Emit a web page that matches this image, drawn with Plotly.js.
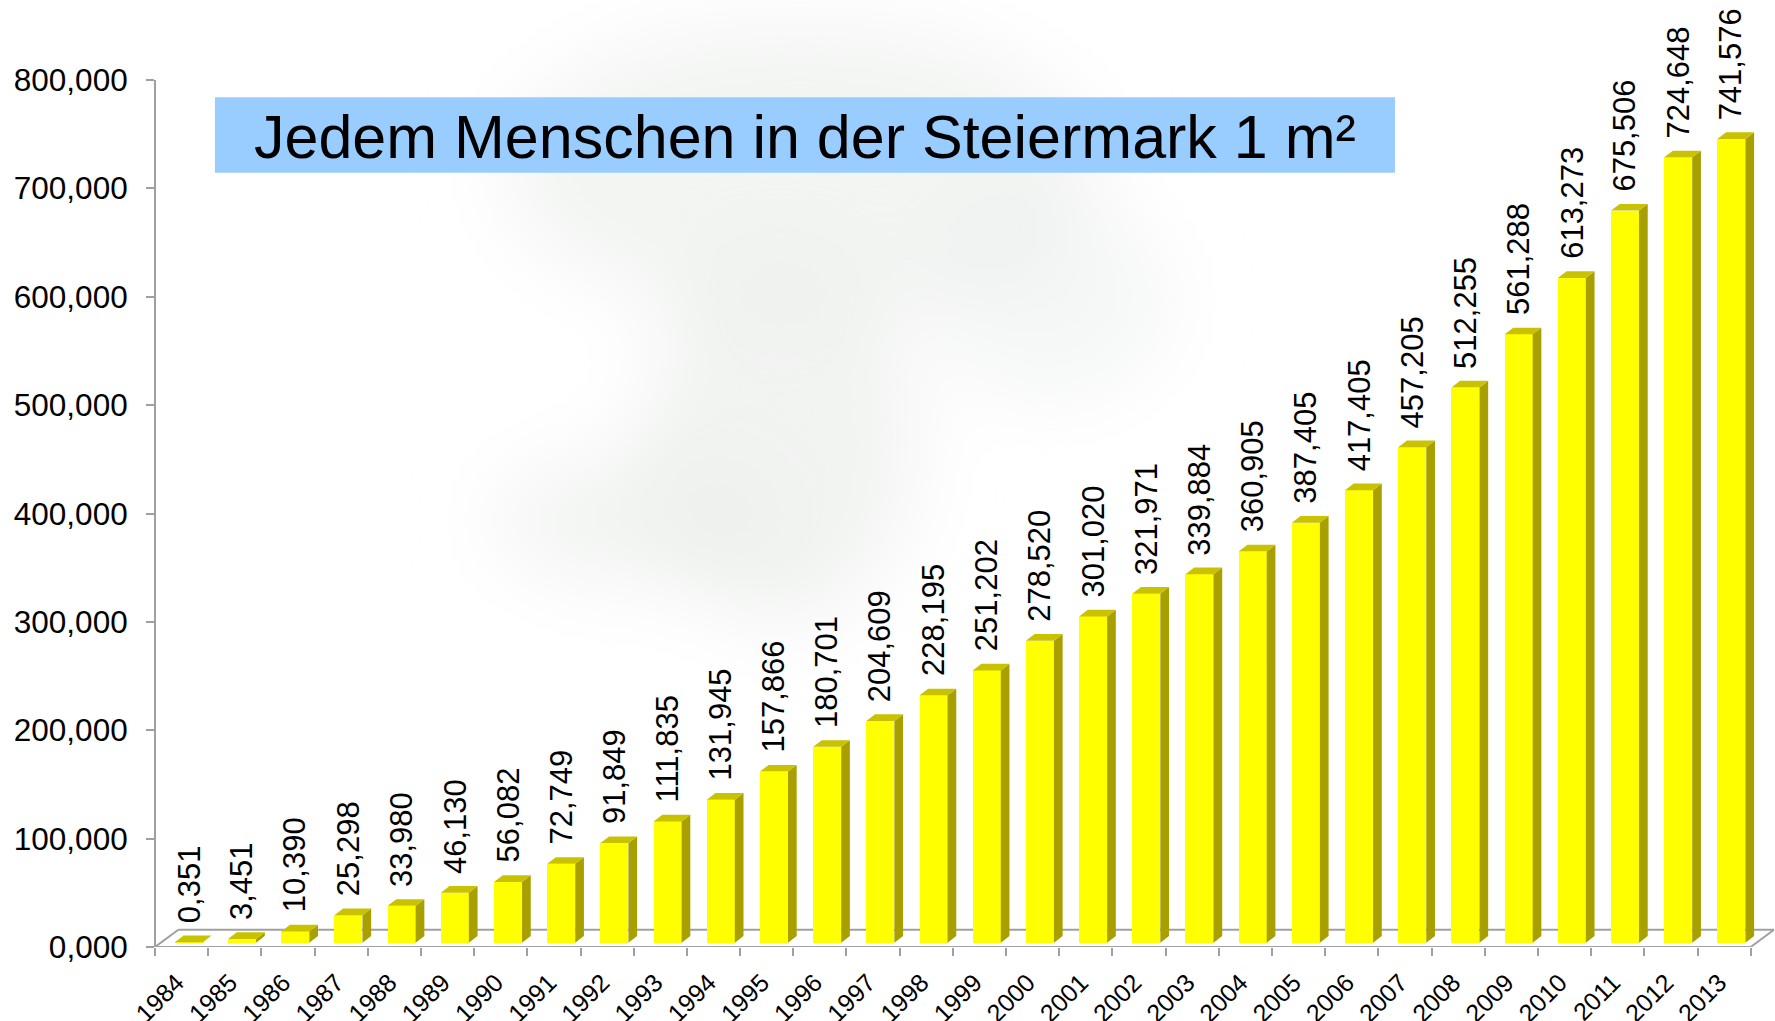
<!DOCTYPE html>
<html>
<head>
<meta charset="utf-8">
<script src="https://cdn.plot.ly/plotly-3.0.1.min.js"></script>
<style>
  html, body { margin: 0; padding: 0; background: #ffffff; }
  #chart { width: 1775px; height: 1021px; }
</style>
</head>
<body>
<div id="chart"></div>
<script>
// ---- data ----
const years = ['1984','1985','1986','1987','1988','1989','1990','1991','1992','1993',
               '1994','1995','1996','1997','1998','1999','2000','2001','2002','2003',
               '2004','2005','2006','2007','2008','2009','2010','2011','2012','2013'];
const values = [0.351, 3.451, 10.390, 25.298, 33.980, 46.130, 56.082, 72.749, 91.849, 111.835,
                131.945, 157.866, 180.701, 204.609, 228.195, 251.202, 278.520, 301.020, 321.971, 339.884,
                360.905, 387.405, 417.405, 457.205, 512.255, 561.288, 613.273, 675.506, 724.648, 741.576];
const yTickVals = [0, 100, 200, 300, 400, 500, 600, 700, 800];
const titleText = 'Jedem Menschen in der Steiermark 1 m²';

// ---- geometry (style constants, in axis units) ----
const OFF = 0.137;      // front face centre offset from category centre
const BW = 0.527;       // front face width
const BASE = 4.0;       // bar floor level above the front floor edge
const SDX = 0.1636, SDY = 6.18;   // bar depth projection
const FDX = 0.438, FDY = 15.96;   // floor depth projection
const LBL_SHIFT = -0.09;          // year label nudge
const N = years.length;
const XRANGE = [-0.5, -0.5 + 1620 / 53.19];

const idx = years.map((_, i) => i);
const fmt = v => v.toFixed(3).replace('.', ',');

// side and top faces as filled polygons built from the data
const sideX = [], sideY = [], topX = [], topY = [];
idx.forEach(i => {
  const xl = i + OFF - BW / 2, xr = i + OFF + BW / 2;
  const top = BASE + values[i];
  sideX.push(xr, xr + SDX, xr + SDX, xr, xr, null);
  sideY.push(BASE, BASE + SDY, top + SDY, top, BASE, null);
  topX.push(xl, xl + SDX, xr + SDX, xr, xl, null);
  topY.push(top, top + SDY, top + SDY, top, top, null);
});

const traces = [
  {
    type: 'bar', x: idx.map(i => i + OFF), y: values, base: BASE, width: BW,
    marker: { color: '#FFFF00', line: { width: 0 } }, hoverinfo: 'skip', showlegend: false
  },
  {
    type: 'scatter', mode: 'lines', x: sideX, y: sideY, fill: 'toself',
    fillcolor: '#A8A000', line: { width: 0, color: '#A8A000' }, hoverinfo: 'skip', showlegend: false
  },
  {
    type: 'scatter', mode: 'lines', x: topX, y: topY, fill: 'toself',
    fillcolor: '#C9C200', line: { width: 0, color: '#C9C200' }, hoverinfo: 'skip', showlegend: false
  },
  { // anchors the category-boundary tick axis
    type: 'scatter', mode: 'markers', x: [XRANGE[0]], y: [0], xaxis: 'x2', yaxis: 'y',
    marker: { opacity: 0 }, hoverinfo: 'skip', showlegend: false
  }
];

const labelAnn = idx.map(i => ({
  x: i + OFF, y: BASE + values[i], xref: 'x', yref: 'y',
  text: fmt(values[i]), showarrow: false, textangle: -90,
  xanchor: 'center', yanchor: 'bottom', yshift: 17,
  font: { family: 'Liberation Sans, Arial, sans-serif', size: 31, color: '#000000' }
}));

const grey = '#A0A0A0';
const shapes = [
  // floor
  { type: 'line', xref: 'x', yref: 'y', x0: -0.5, y0: 0, x1: N - 0.5, y1: 0, line: { color: grey, width: 2 }, layer: 'below' },
  { type: 'line', xref: 'x', yref: 'y', x0: -0.5 + FDX, y0: FDY, x1: N - 0.5 + FDX, y1: FDY, line: { color: grey, width: 2 }, layer: 'below' },
  { type: 'line', xref: 'x', yref: 'y', x0: -0.5, y0: 0, x1: -0.5 + FDX, y1: FDY, line: { color: grey, width: 2 }, layer: 'below' },
  { type: 'line', xref: 'x', yref: 'y', x0: N - 0.5, y0: 0, x1: N - 0.5 + FDX, y1: FDY, line: { color: grey, width: 2 }, layer: 'below' },
  // value axis line
  { type: 'line', xref: 'paper', yref: 'y', x0: 0, y0: 0, x1: 0, y1: yTickVals[yTickVals.length - 1], line: { color: grey, width: 2 }, layer: 'below' },
  // title box
  { type: 'rect', xref: 'paper', yref: 'paper', x0: 0.0370, x1: 0.7654, y0: 0.8176, y1: 0.8974,
    fillcolor: '#99CCFF', line: { width: 0 }, layer: 'below' }
];

const annotations = labelAnn.concat([{
  xref: 'paper', yref: 'paper', x: 0.4012, y: 0.8555, xanchor: 'center', yanchor: 'middle',
  text: titleText, showarrow: false,
  font: { family: 'Liberation Sans, Arial, sans-serif', size: 61, color: '#000000' }
}]);

// faint background watermark (decorative)
const wm = '<svg xmlns="http://www.w3.org/2000/svg" width="1775" height="1021" viewBox="0 0 1775 1021">' +
  '<defs><filter id="b" x="-50%" y="-50%" width="200%" height="200%"><feGaussianBlur stdDeviation="40"/></filter></defs>' +
  '<g filter="url(#b)" fill="#e9ecea">' +
  '<ellipse cx="800" cy="170" rx="300" ry="150" opacity="0.55"/>' +
  '<ellipse cx="780" cy="440" rx="140" ry="190" opacity="0.6"/>' +
  '<ellipse cx="640" cy="520" rx="150" ry="70" opacity="0.55"/>' +
  '<ellipse cx="1050" cy="300" rx="120" ry="100" opacity="0.45"/>' +
  '</g></svg>';

const layout = {
  width: 1775, height: 1021,
  margin: { l: 155, r: 0, t: 0, b: 74 },
  paper_bgcolor: '#ffffff', plot_bgcolor: 'rgba(0,0,0,0)',
  separators: ',.',
  showlegend: false,
  font: { family: 'Liberation Sans, Arial, sans-serif', color: '#000000' },
  images: [{
    source: 'data:image/svg+xml;charset=utf-8,' + encodeURIComponent(wm),
    xref: 'paper', yref: 'paper', x: -155 / 1620, y: 1, xanchor: 'left', yanchor: 'top',
    sizex: 1775 / 1620, sizey: 1021 / 947, sizing: 'stretch', layer: 'below'
  }],
  xaxis: {
    range: XRANGE,
    tickmode: 'array', tickvals: idx.map(i => i + LBL_SHIFT), ticktext: years,
    ticks: '', tickangle: -45, ticklabelstandoff: 15,
    tickfont: { size: 25, color: '#000000' },
    showgrid: false, zeroline: false, showline: false, fixedrange: true
  },
  xaxis2: {
    overlaying: 'x', anchor: 'y', side: 'bottom', range: XRANGE,
    tickmode: 'array', tickvals: idx.map(i => i - 0.5).concat([N - 0.5]),
    ticks: 'outside', ticklen: 8, tickwidth: 2, tickcolor: grey, showticklabels: false,
    showgrid: false, zeroline: false, showline: false, fixedrange: true
  },
  yaxis: {
    range: [0, 947 / 1.08375],
    tickmode: 'array', tickvals: yTickVals, tickformat: '.3f',
    ticks: 'outside', ticklen: 8, tickwidth: 2, tickcolor: grey,
    ticklabelstandoff: 12,
    tickfont: { size: 31.5, color: '#000000' },
    showgrid: false, zeroline: false, showline: false, fixedrange: true
  },
  bargap: 0,
  shapes: shapes,
  annotations: annotations
};

Plotly.newPlot('chart', traces, layout, { displayModeBar: false, staticPlot: true });
</script>
</body>
</html>
